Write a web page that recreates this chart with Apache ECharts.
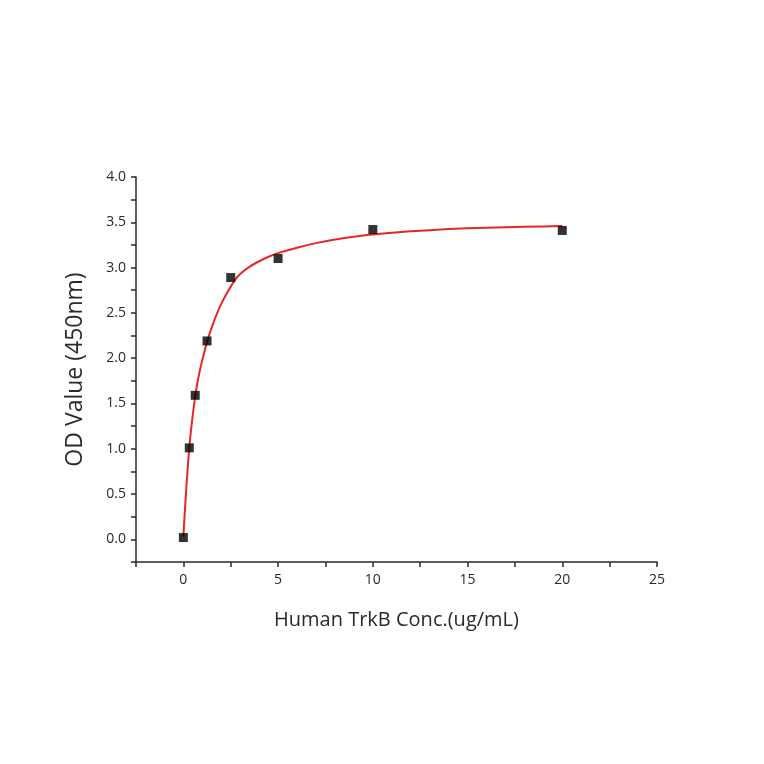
<!DOCTYPE html>
<html>
<head>
<meta charset="utf-8">
<script src="https://cdn.jsdelivr.net/npm/echarts@6/dist/echarts.min.js"></script>
<style>html,body{margin:0;padding:0;background:#fff}#c{width:764px;height:764px}</style>
</head>
<body>
<div id="c"></div>
<script>
// Measured data (concentration in ug/mL, OD at 450nm)
const concX = [0, 0.3125, 0.625, 1.25, 2.5, 5, 10, 20];
const odY = [0.02, 1.01, 1.59, 2.19, 2.89, 3.10, 3.42, 3.41];
// Fitted curve
const fitX = [0, 0.05, 0.1, 0.15, 0.2, 0.25, 0.3125, 0.4, 0.5, 0.625, 0.75, 0.875, 1.0, 1.25, 1.5, 1.75, 2.0, 2.25, 2.5, 2.75, 3.0, 3.5, 4.0, 4.5, 5, 6, 7, 8, 9, 10, 12, 14, 16, 18, 20];
const fitY = [0.03, 0.21, 0.38, 0.55, 0.70, 0.85, 1.01, 1.20, 1.38, 1.58, 1.74, 1.87, 1.98, 2.18, 2.34, 2.48, 2.60, 2.70, 2.79, 2.87, 2.93, 3.01, 3.07, 3.12, 3.16, 3.22, 3.27, 3.31, 3.34, 3.365, 3.40, 3.425, 3.44, 3.45, 3.46];
const xTitle = 'Human TrkB Conc.(ug/mL)';
const yTitle = 'OD Value (450nm)';

const chart = echarts.init(document.getElementById('c'));
const font = '"Open Sans", Lato, sans-serif';
const ink = '#2a2a2a';
chart.setOption({
  animation: false,
  backgroundColor: '#fff',
  grid: {left: 136, right: 107, top: 177, bottom: 202, containLabel: false},
  xAxis: {
    type: 'value', min: -2.5, max: 25, interval: 2.5,
    name: xTitle, nameLocation: 'middle', nameGap: 48,
    nameTextStyle: {fontFamily: font, fontSize: 20, color: ink},
    axisLine: {onZero: false, lineStyle: {color: ink, width: 1.5}},
    axisTick: {length: 5, lineStyle: {color: ink, width: 1.5}},
    axisLabel: {fontFamily: font, fontSize: 14, color: ink, margin: 11,
      formatter: v => (Math.abs(v % 5) < 1e-9 && v >= 0) ? String(Math.round(v)) : ''},
    splitLine: {show: false}
  },
  yAxis: {
    type: 'value', min: -0.25, max: 4, interval: 0.25,
    name: yTitle, nameLocation: 'middle', nameGap: 49,
    nameTextStyle: {fontFamily: font, fontSize: 23, color: ink},
    axisLine: {onZero: false, lineStyle: {color: ink, width: 1.5}},
    axisTick: {length: 5, lineStyle: {color: ink, width: 1.5}},
    axisLabel: {fontFamily: font, fontSize: 14, color: ink, margin: 10,
      formatter: v => (Math.abs((v * 2) - Math.round(v * 2)) < 1e-9 && v >= 0) ? v.toFixed(1) : ''},
    splitLine: {show: false}
  },
  series: [
    {
      type: 'line', smooth: 0.2, showSymbol: false, symbol: 'none',
      data: fitX.map((x, i) => [x, fitY[i]]),
      lineStyle: {color: '#e8262a', width: 2}, z: 2
    },
    {
      type: 'scatter', symbol: 'rect', symbolSize: 9,
      data: concX.map((x, i) => [x, odY[i]]),
      itemStyle: {color: '#000'}, z: 3
    }
  ]
});
</script>
</body>
</html>
